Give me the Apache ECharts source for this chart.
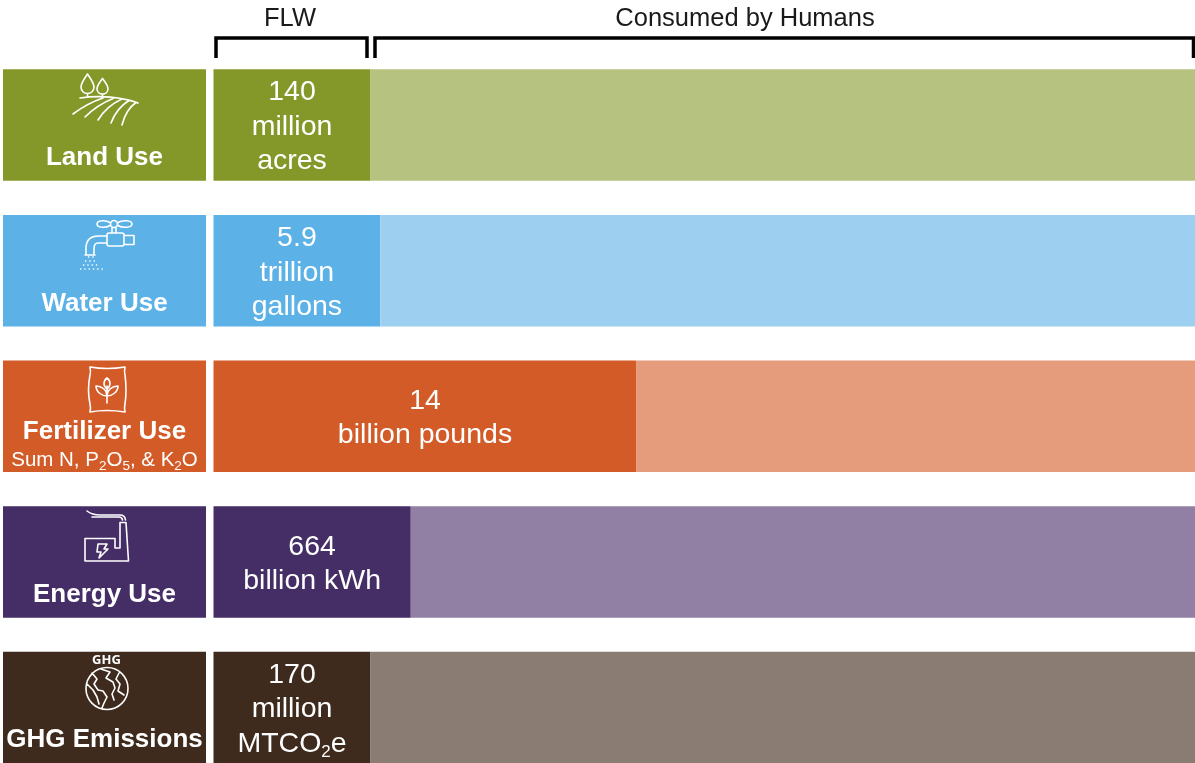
<!DOCTYPE html>
<html><head><meta charset="utf-8">
<style>html,body{margin:0;padding:0;background:#fff}#c{width:1195px;height:763px}</style>
<script src="https://cdn.jsdelivr.net/npm/echarts@6/dist/echarts.min.js"></script>
</head><body><div id="c"></div>
<script>
const categories = ['Land Use','Water Use','Fertilizer Use','Energy Use','GHG Emissions'];
const subtitles = ['','','{s|Sum N, P}{ss|2}{s|O}{ss|5}{s|, & K}{ss|2}{s|O}','',''];
const flwShare = [16,17,43.1,20.1,16];
const consumedShare = [84,83,56.9,79.9,84];
const panelValues = [100,100,100,100,100];
const flwLabels = ['140\nmillion\nacres','5.9\ntrillion\ngallons','14\nbillion pounds','664\nbillion kWh','170\nmillion\nMTCO{sub|2}e'];
const flwColors = ['#84982A','#5CB1E6','#D25B28','#452D66','#3F2B1E'];
const consumedColors = ['#B6C280','#9DD0F0','#E49C7C','#9180A4','#8A7C72'];
const groupLabels = ['FLW','Consumed by Humans'];

const FONT = '"Liberation Sans", Arial, sans-serif';
const rowTop = 52.3, rowHeight = 728, barH = 111.5;

const icons = [
 // land
 'M87.5 74C84 79 81 83 81 87C81 91 84 93.5 87.5 93.5C91 93.5 94 91 94 87C94 83 91 79 87.5 74ZM87.5 93.5V97'
 +'M102.5 78.5C100 82 97 85 97 89C97 92 99.5 94 102.5 94C105.5 94 108 92 108 89C108 85 105 82 102.5 78.5ZM102.5 94V96'
 +'M80 98C100 95 122 97 138 103M73 114C81 108 91 102 103 98M85 117C92 110 102 103 113 98.5M98 120C103 112 111 104 121 99.5M111 123C114 115 120 106 129 100.5M122 125C124 117 128 108 136 102.5',
 // water
 'M97 224C97 220 106 220 110 222.5M97 224C97 228 106 228 110 225.5M118 222.5C122 220 132 220 132 224C132 228 122 228 118 225.5'
 +'M110.5 224A3.5 3.5 0 1 0 117.5 224A3.5 3.5 0 1 0 110.5 224M112 228V233M116 228V233'
 +'M107 236H98Q87 236 86 247V254M107 243H98Q94 243 94 249V254M85 255H95'
 +'M109 233H122Q124 233 124 235V244Q124 246 122 246H109Q107 246 107 244V235Q107 233 109 233ZM124 235.5H134V244.5H124',
 // fertilizer
 'M90 367Q107 370 125 367Q124 372 125 375Q127 390 125 404Q124 408 125 412Q107 409 90 412Q91 408 90 404Q87 390 90 375Q91 372 90 367Z'
 +'M107 403V386M107 378C103 381 103 386 107 389C111 386 111 381 107 378Z'
 +'M96 386C96 392 102 396 107 396C107 390 102 386 96 386ZM118 386C118 392 112 396 107 396C107 390 112 386 118 386Z',
 // energy
 'M87 511Q92 515 100 515H120Q125 515 125.5 520M92 517H119Q122 517 122.5 520'
 +'M85 538.5H115V548H120V522.5H126L128.5 561H85Z'
 +'M98 544H107L104 549H108L99 558L101 552H97Z',
 // ghg
 'M128 688.5A21 21 0 1 1 86 688.5A21 21 0 1 1 128 688.5Z'
 +'M92 673L97 679L94 684L98 690L103 691L107 697L104 703L102 708M101 669L110 672L106 678L113 682L115 688L112 694L114 700M119 673L116 679L120 684L118 691L124 695M87 684L93 690L97 697L99 704'
];

const graphics = [];
const ink = {stroke:'#000', lineWidth:3.5, fill:null};
graphics.push({type:'polyline',z:100,shape:{points:[[216,58],[216,38],[367,38],[367,58]]},style:ink});
graphics.push({type:'polyline',z:100,shape:{points:[[375,58],[375,38],[1193.5,38],[1193.5,58]]},style:ink});
graphics.push({type:'text',z:100,x:290,y:19,style:{text:groupLabels[0],font:'25.5px '+FONT,fill:'#1a1a1a',align:'center',verticalAlign:'middle'}});
graphics.push({type:'text',z:100,x:745,y:19,style:{text:groupLabels[1],font:'25.5px '+FONT,fill:'#1a1a1a',align:'center',verticalAlign:'middle'}});
icons.forEach((d,i)=>{
  const name='icon'+i;
  echarts.graphic.registerShape(name, echarts.graphic.extendPath(d));
  graphics.push({type:name,z:100,style:{stroke:'#fff',lineWidth:1.6,fill:null,lineCap:'round',lineJoin:'round'}});
});
// faucet spray rows
[[88,95,257],[85,98,261],[83,100,265],[80,104,269]].forEach(r=>graphics.push({type:'line',z:100,shape:{x1:r[0],x2:r[1],y1:r[2],y2:r[2]},style:{stroke:'#fff',lineWidth:1.3,lineDash:[1.3,3]}}));
graphics.push({type:'text',z:100,x:106.5,y:660,style:{text:'GHG',font:'bold 13px "Open Sans", sans-serif',fill:'#fff',align:'center',verticalAlign:'middle'}});

const chart = echarts.init(document.getElementById('c'),null,{renderer:'canvas'});
chart.setOption({
 animation:false,
 backgroundColor:'#fff',
 grid:[
  {left:3,width:203,top:rowTop,height:rowHeight,outerBoundsMode:'none'},
  {left:213.5,width:981.5,top:rowTop,height:rowHeight,outerBoundsMode:'none'}
 ],
 xAxis:[
  {gridIndex:0,type:'value',min:0,max:100,show:false},
  {gridIndex:1,type:'value',min:0,max:100,show:false}
 ],
 yAxis:[
  {gridIndex:0,type:'category',inverse:true,data:categories,show:false},
  {gridIndex:1,type:'category',inverse:true,data:categories,show:false}
 ],
 graphic:graphics,
 series:[
  {type:'bar',name:'Category',xAxisIndex:0,yAxisIndex:0,barWidth:barH,
   data:panelValues.map((v,i)=>({
     value:v,
     itemStyle:{color:flwColors[i]},
     label:{
       show:true,position:'insideBottom',distance:subtitles[i]?-1:8,
       formatter:()=>'{t|'+categories[i]+'}'+(subtitles[i]?'\n'+subtitles[i]:''),
       rich:{
        t:{fontFamily:FONT,fontWeight:'bold',fontSize:26,color:'#fff',lineHeight:30,align:'center'},
        s:{fontFamily:FONT,fontSize:20.5,color:'#fff',lineHeight:26},
        ss:{fontFamily:FONT,fontSize:13.5,color:'#fff',lineHeight:26,verticalAlign:'bottom'}
       }
     }
   }))},
  {type:'bar',name:'FLW',stack:'t',xAxisIndex:1,yAxisIndex:1,barWidth:barH,
   data:flwShare.map((v,i)=>({
     value:v,
     itemStyle:{color:flwColors[i]},
     label:{
       show:true,position:'inside',offset:[0,2],
       formatter:()=>flwLabels[i],
       fontFamily:FONT,fontSize:28.5,color:'#fff',lineHeight:34.5,align:'center',
       rich:{sub:{fontFamily:FONT,fontSize:17,color:'#fff',lineHeight:34.5,verticalAlign:'bottom'}}
     }
   }))},
  {type:'bar',name:'Consumed by Humans',stack:'t',xAxisIndex:1,yAxisIndex:1,barWidth:barH,
   data:consumedShare.map((v,i)=>({value:v,itemStyle:{color:consumedColors[i]}}))}
 ]
});
</script></body></html>
